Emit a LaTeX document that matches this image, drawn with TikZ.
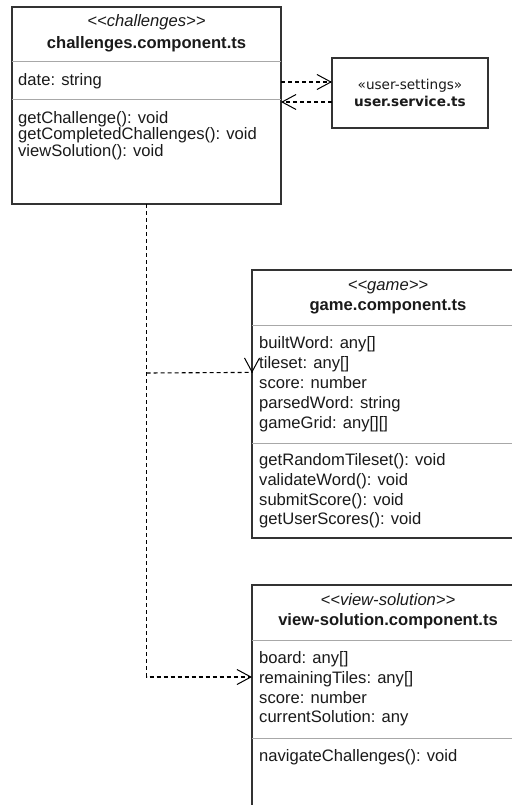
\documentclass[tikz,border=0pt]{standalone}
\usepackage{fontspec}
\setmainfont{Liberation Sans}
\newfontfamily\usrfont{DejaVu Sans}
\usetikzlibrary{arrows.meta,calc}
\definecolor{ink}{HTML}{1A1A1A}
\definecolor{frame}{HTML}{333333}
\definecolor{sepc}{HTML}{A8A8A8}
\tikzset{
  clsbox/.style={draw=frame, line width=1.1bp, inner sep=0pt, outer sep=0pt, anchor=north west},
  sepline/.style={draw=sepc, line width=1bp},
  mtxt/.style={font=\fontsize{16.6bp}{20bp}\selectfont, text=ink, inner sep=0pt, anchor=base west},
  stereo/.style={font=\fontsize{16.6bp}{20bp}\selectfont\itshape, text=ink, inner sep=0pt, anchor=base},
  ctitle/.style={font=\fontsize{16.6bp}{20bp}\selectfont\bfseries, text=ink, inner sep=0pt, anchor=base},
  utxt/.style={font=\fontsize{13.6bp}{16bp}\usrfont\selectfont, text=ink, inner sep=0pt, anchor=base},
  depline/.style={draw=black, line width=1.1bp, dash pattern=on 4bp off 3bp},
  dep/.style={depline, -{Straight Barb[length=14bp,width=15bp,line width=1bp]}}
}
\begin{document}
\begin{tikzpicture}[x=1bp,y=-1bp]
\useasboundingbox (0,0) rectangle (512,805);
\clip (0,0) rectangle (512,805);
\fill[white] (0,0) rectangle (512,805);

% helper levels
\coordinate (yA) at (0,82);
\coordinate (yB) at (0,102);
\coordinate (yG) at (0,373);
\coordinate (yV) at (0,677);

% challenges.component.ts
\node[clsbox, minimum width=269bp, minimum height=197bp] (chal) at (12,7) {};
\draw[sepline] ($(chal.north west)+(0,55)$) -- ($(chal.north east)+(0,55)$);
\draw[sepline] ($(chal.north west)+(0,92)$) -- ($(chal.north east)+(0,92)$);
\node[stereo] (chalst) at (146.5,27) {<{}<challenges>{}>};
\node[ctitle] (chaltt) at (146.5,49) {challenges.component.ts};
\node[mtxt] (chala1) at (18,85) {date: string};
\node[mtxt] (chalm1) at (18,123) {getChallenge(): void};
\node[mtxt] (chalm2) at (18,139.5) {getCompletedChallenges(): void};
\node[mtxt] (chalm3) at (18,156) {viewSolution(): void};

% user.service.ts
\node[clsbox, minimum width=156bp, minimum height=70bp] (user) at (332,58) {};
\node[utxt] (userst) at (410,89) {«user-settings»};
\node[utxt, font=\fontsize{13.6bp}{16bp}\usrfont\bfseries\selectfont] (usertt) at (410,106) {user.service.ts};

% game.component.ts
\node[clsbox, minimum width=290bp, minimum height=268bp] (game) at (252,270) {};
\draw[sepline] ($(game.north west)+(0,55)$) -- ($(game.north east)+(0,55)$);
\draw[sepline] ($(game.north west)+(0,173)$) -- ($(game.north east)+(0,173)$);
\node[stereo] (gamest) at (388,290) {<{}<game>{}>};
\node[ctitle] (gamett) at (388,310) {game.component.ts};
\node[mtxt] (gamea1) at (259,348) {builtWord: any[]};
\node[mtxt] (gamea2) at (259,368) {tileset: any[]};
\node[mtxt] (gamea3) at (259,388) {score: number};
\node[mtxt] (gamea4) at (259,408) {parsedWord: string};
\node[mtxt] (gamea5) at (259,428) {gameGrid: any[][]};
\node[mtxt] (gamem1) at (259,465) {getRandomTileset(): void};
\node[mtxt] (gamem2) at (259,485) {validateWord(): void};
\node[mtxt] (gamem3) at (259,505) {submitScore(): void};
\node[mtxt] (gamem4) at (259,524) {getUserScores(): void};

% view-solution.component.ts
\node[clsbox, minimum width=290bp, minimum height=250bp] (view) at (252,585) {};
\draw[sepline] ($(view.north west)+(0,55)$) -- ($(view.north east)+(0,55)$);
\draw[sepline] ($(view.north west)+(0,153)$) -- ($(view.north east)+(0,153)$);
\node[stereo] (viewst) at (388,605) {<{}<view-solution>{}>};
\node[ctitle] (viewtt) at (388,625) {view-solution.component.ts};
\node[mtxt] (viewa1) at (259,663) {board: any[]};
\node[mtxt] (viewa2) at (259,683) {remainingTiles: any[]};
\node[mtxt] (viewa3) at (259,703) {score: number};
\node[mtxt] (viewa4) at (259,722) {currentSolution: any};
\node[mtxt] (viewm1) at (259,761) {navigateChallenges(): void};

% connectors
\draw[dep] (chal.east |- yA) -- (user.west |- yA);
\draw[dep] (user.west |- yB) -- (chal.east |- yB);
\draw[dep] (chal.south) -- (chal.south |- yV) -- (view.west |- yV);
\draw[dep] (chal.south |- yG) -- ($(game.west |- yG)+(0,-0.6)$) -- (game.west |- yG);
\end{tikzpicture}
\end{document}
